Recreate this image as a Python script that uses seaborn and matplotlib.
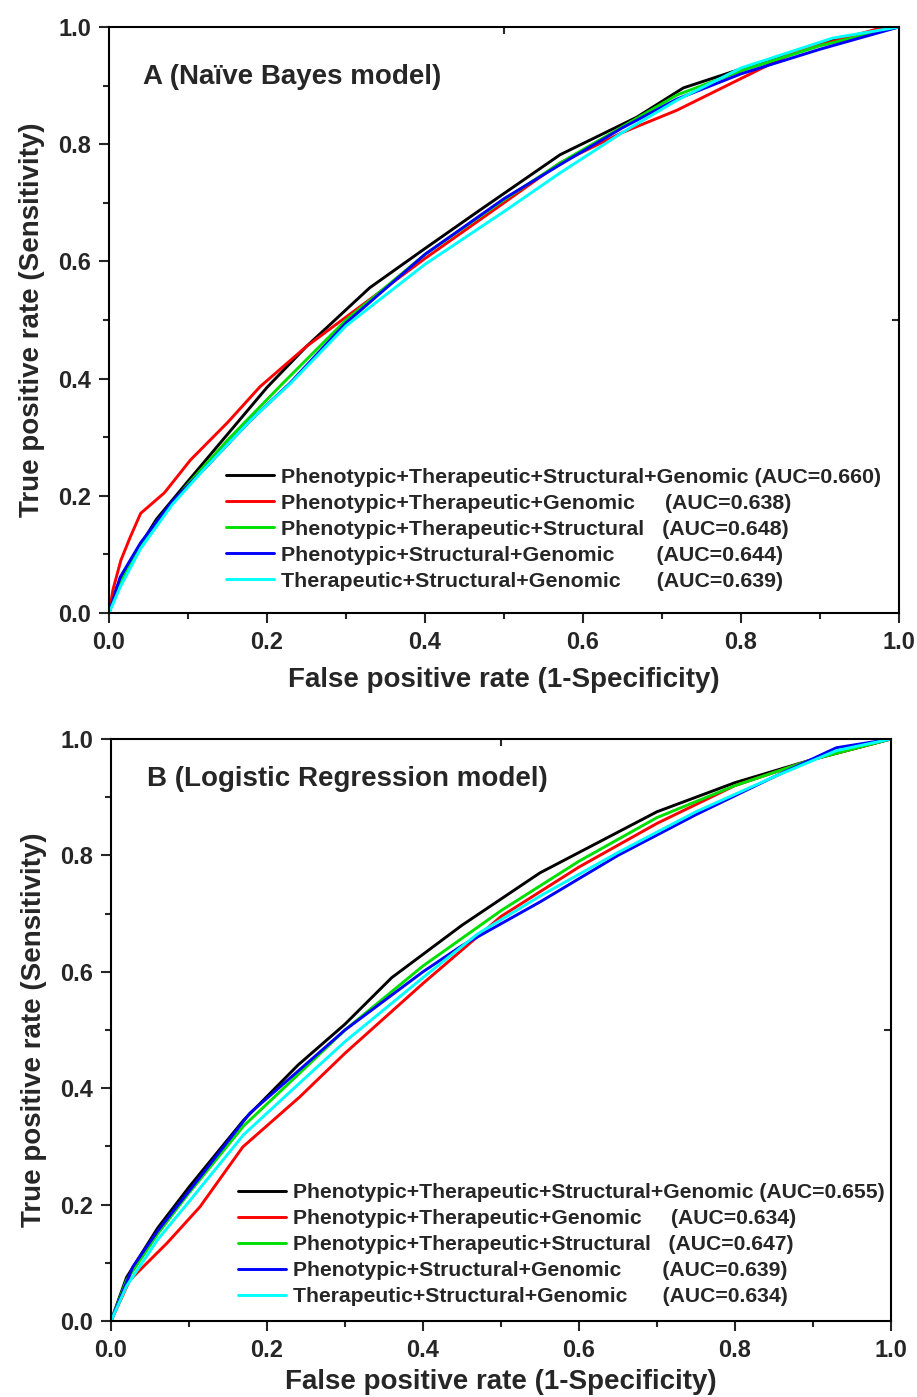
import pandas as pd
import numpy as np
import seaborn as sns
from matplotlib import pyplot as plt

# ROC curve points (fpr, tpr)
names = ["Phenotypic+Therapeutic+Structural+Genomic",
         "Phenotypic+Therapeutic+Genomic",
         "Phenotypic+Therapeutic+Structural",
         "Phenotypic+Structural+Genomic",
         "Therapeutic+Structural+Genomic"]
gaps = [" ", "     ", "   ", "       ", "      "]
auc_nb = ["0.660", "0.638", "0.648", "0.644", "0.639"]
auc_lr = ["0.655", "0.634", "0.647", "0.639", "0.634"]
colors = ["#000000", "#ff0000", "#00e000", "#0000ff", "#00ffff"]

# panel A: Naive Bayes
nb_black_x = [0, 0.01, 0.03, 0.06, 0.1, 0.15, 0.2, 0.25, 0.33, 0.4, 0.47, 0.571, 0.668, 0.727, 0.824, 0.891, 0.95, 1]
nb_black_y = [0, 0.045, 0.095, 0.16, 0.225, 0.305, 0.385, 0.455, 0.555, 0.622, 0.688, 0.782, 0.846, 0.896, 0.939, 0.969, 0.988, 1]
nb_red_x = [0, 0.005, 0.015, 0.027, 0.04, 0.07, 0.103, 0.15, 0.191, 0.25, 0.3, 0.4, 0.5, 0.571, 0.65, 0.719, 0.824, 0.866, 0.976, 1]
nb_red_y = [0, 0.04, 0.09, 0.13, 0.17, 0.205, 0.261, 0.325, 0.386, 0.455, 0.505, 0.605, 0.7, 0.768, 0.82, 0.858, 0.928, 0.956, 0.998, 1]
nb_green_x = [0, 0.01, 0.03, 0.06, 0.1, 0.15, 0.22, 0.3, 0.4, 0.5, 0.571, 0.65, 0.719, 0.8, 0.9, 1]
nb_green_y = [0, 0.04, 0.09, 0.155, 0.22, 0.295, 0.392, 0.5, 0.612, 0.705, 0.768, 0.83, 0.884, 0.925, 0.968, 1]
nb_blue_x = [0, 0.014, 0.04, 0.08, 0.12, 0.18, 0.229, 0.3, 0.4, 0.5, 0.571, 0.65, 0.719, 0.8, 0.9, 1]
nb_blue_y = [0, 0.061, 0.12, 0.19, 0.245, 0.33, 0.392, 0.495, 0.612, 0.707, 0.765, 0.828, 0.877, 0.92, 0.962, 1]
nb_cyan_x = [0, 0.014, 0.04, 0.08, 0.12, 0.18, 0.23, 0.3, 0.4, 0.5, 0.571, 0.65, 0.719, 0.8, 0.916, 1]
nb_cyan_y = [0, 0.044, 0.11, 0.185, 0.245, 0.33, 0.392, 0.49, 0.595, 0.685, 0.751, 0.82, 0.875, 0.93, 0.981, 1]

# panel B: Logistic Regression
lr_black_x = [0, 0.02, 0.06, 0.1, 0.17, 0.24, 0.3, 0.36, 0.45, 0.55, 0.7, 0.8, 0.9, 1]
lr_black_y = [0, 0.075, 0.16, 0.23, 0.345, 0.44, 0.51, 0.59, 0.68, 0.77, 0.875, 0.925, 0.965, 1]
lr_red_x = [0, 0.024, 0.072, 0.114, 0.169, 0.242, 0.3, 0.4, 0.5, 0.6, 0.7, 0.8, 0.9, 1]
lr_red_y = [0, 0.07, 0.134, 0.196, 0.299, 0.385, 0.46, 0.58, 0.695, 0.78, 0.855, 0.92, 0.965, 1]
lr_green_x = [0, 0.02, 0.06, 0.1, 0.17, 0.242, 0.3, 0.4, 0.5, 0.6, 0.7, 0.8, 0.9, 1]
lr_green_y = [0, 0.07, 0.15, 0.22, 0.335, 0.426, 0.5, 0.61, 0.705, 0.79, 0.865, 0.92, 0.965, 1]
lr_blue_x = [0, 0.028, 0.06, 0.114, 0.178, 0.208, 0.3, 0.4, 0.45, 0.55, 0.65, 0.75, 0.85, 0.93, 1]
lr_blue_y = [0, 0.093, 0.155, 0.247, 0.357, 0.392, 0.5, 0.6, 0.645, 0.72, 0.8, 0.87, 0.935, 0.985, 1]
lr_cyan_x = [0, 0.02, 0.06, 0.1, 0.17, 0.242, 0.3, 0.4, 0.47, 0.55, 0.65, 0.75, 0.85, 0.93, 1]
lr_cyan_y = [0, 0.06, 0.14, 0.205, 0.32, 0.409, 0.48, 0.59, 0.665, 0.73, 0.805, 0.875, 0.935, 0.98, 1]

nb_x = [nb_black_x, nb_red_x, nb_green_x, nb_blue_x, nb_cyan_x]
nb_y = [nb_black_y, nb_red_y, nb_green_y, nb_blue_y, nb_cyan_y]
lr_x = [lr_black_x, lr_red_x, lr_green_x, lr_blue_x, lr_cyan_x]
lr_y = [lr_black_y, lr_red_y, lr_green_y, lr_blue_y, lr_cyan_y]


def make_df(xs, ys, aucs):
    rows = []
    for i in range(len(names)):
        lab = names[i] + gaps[i] + "(AUC=" + aucs[i] + ")"
        for x, y in zip(xs[i], ys[i]):
            rows.append({"fpr": x, "tpr": y, "model": lab})
    return pd.DataFrame(rows)


sns.set_theme(style="white")
plt.rcParams['font.family'] = ['Liberation Sans', 'DejaVu Sans']
plt.rcParams['font.weight'] = 'bold'

fig = plt.figure(figsize=(9.17, 13.97), dpi=100)
axA = fig.add_axes([0.1189, 0.5612, 0.8615, 0.4195])
axB = fig.add_axes([0.1210, 0.0544, 0.8506, 0.4166])

# axes, data, title, title pos, legend pos, legend size, xlabel pad
panels = [
    (axA, make_df(nb_x, nb_y, auc_nb), "A (Naïve Bayes model)", (0.043, 0.915), (0.148, 0.248), 15.4, 9),
    (axB, make_df(lr_x, lr_y, auc_lr), "B (Logistic Regression model)", (0.046, 0.931), (0.163, 0.237), 15.2, 5),
]

ticks = np.arange(0, 1.01, 0.2)
tick_labels = ["%.1f" % v for v in ticks]

for ax, df, title, tpos, lpos, lsize, xpad in panels:
    labels = list(dict.fromkeys(df["model"]))
    sns.lineplot(data=df, x="fpr", y="tpr", hue="model", hue_order=labels,
                 palette=dict(zip(labels, colors)), sort=False, estimator=None,
                 linewidth=2.1, ax=ax)
    ax.set_xlim(0, 1)
    ax.set_ylim(0, 1)
    ax.set_xticks(ticks)
    ax.set_yticks(ticks)
    ax.set_xticks(np.arange(0.1, 1, 0.2), minor=True)
    ax.set_yticks(np.arange(0.1, 1, 0.2), minor=True)
    ax.set_xticklabels(tick_labels)
    ax.set_yticklabels(tick_labels)
    ax.tick_params(which="major", direction="out", length=7, width=1.5, labelsize=17, pad=6,
                   bottom=True, left=True)
    ax.tick_params(which="minor", direction="out", length=4.5, width=1.5, bottom=True, left=True)
    for s in ax.spines.values():
        s.set_color("black")
        s.set_linewidth(1.5)
    # single inward ticks at 0.5 on the top and right edges
    top = ax.secondary_xaxis("top")
    top.set_xticks([0.5])
    top.set_xticklabels([])
    top.tick_params(direction="in", length=5, width=1.5)
    right = ax.secondary_yaxis("right")
    right.set_yticks([0.5])
    right.set_yticklabels([])
    right.tick_params(direction="in", length=5, width=1.5)

    ax.set_xlabel("False positive rate (1-Specificity)", fontsize=20, fontweight="bold", labelpad=xpad)
    ax.set_ylabel("True positive rate (Sensitivity)", fontsize=20, fontweight="bold", labelpad=9)
    ax.text(tpos[0], tpos[1], title, transform=ax.transAxes, fontsize=20,
            fontweight="bold", va="center", ha="left")
    ax.legend(loc="upper left", bbox_to_anchor=lpos, frameon=False,
              handlelength=2.25, handletextpad=0.33, labelspacing=0.33,
              borderpad=0, borderaxespad=0, prop={"weight": "bold", "size": lsize})

fig.savefig("out.png", dpi=100)
